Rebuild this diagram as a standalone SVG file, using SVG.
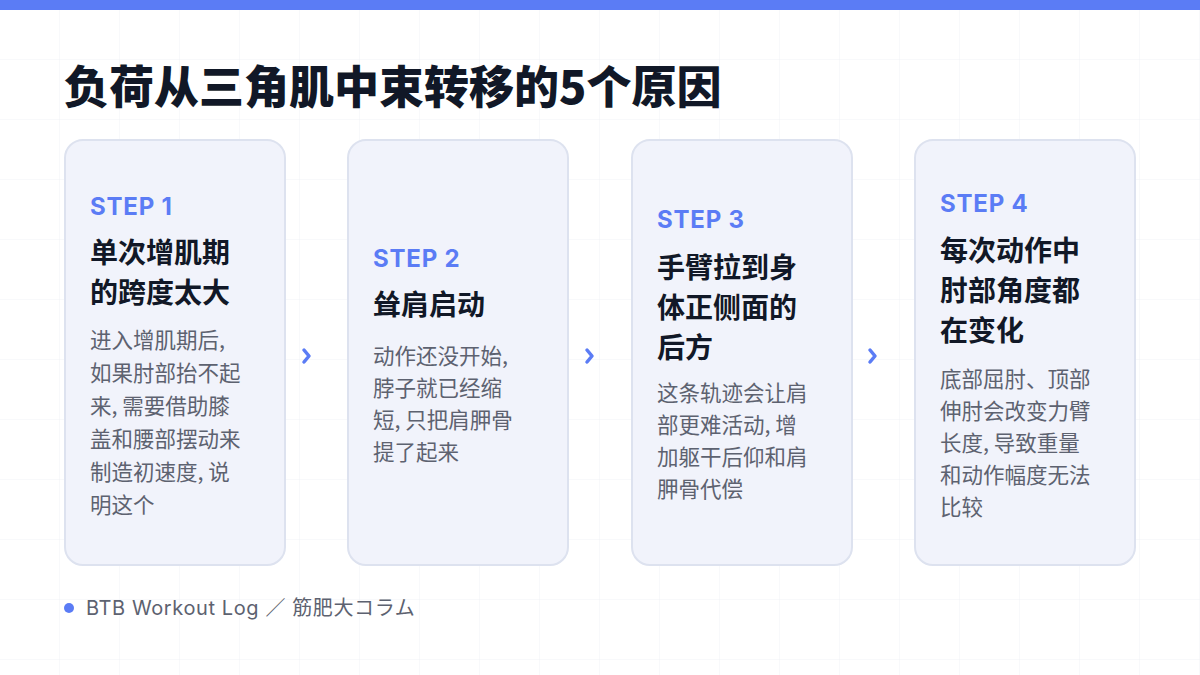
<svg xmlns="http://www.w3.org/2000/svg" width="1200" height="675" viewBox="0 0 1200 675">
<defs>
<pattern id="grid" width="60" height="60" patternUnits="userSpaceOnUse"><path d="M60 0V60H0" fill="none" stroke="#f1f2f6" stroke-width="1"/></pattern>
</defs>
<style>
.card{fill:#f1f3fb;stroke:#dde2ef;stroke-width:2}
.step{font-family:Inter,"Noto Sans",sans-serif;font-weight:700;font-size:24px;letter-spacing:0.8px;fill:#5b7cf5}
.ttl{font-family:"Noto Sans CJK SC",sans-serif;font-weight:700;font-size:28px;fill:#111827}
.body{font-family:"Noto Sans CJK SC",sans-serif;font-size:21.5px;fill:#5d6270}
.arr{fill:none;stroke:#5b7cf5;stroke-width:3.5;stroke-linecap:round;stroke-linejoin:round}
</style>
<rect width="1200" height="675" fill="#ffffff"/>
<rect width="1200" height="675" fill="url(#grid)"/>
<rect width="1200" height="10" fill="#5b7cf5"/>
<text x="64" y="104" font-family="'Noto Sans CJK SC',sans-serif" font-weight="900" font-size="45" fill="#111827">负荷从三角肌中束转移的5个原因</text>
<g id="connectors">
<path class="arr" d="M304 350l5 6-5 6"/>
<path class="arr" d="M587 350l5 6-5 6"/>
<path class="arr" d="M870 350l5 6-5 6"/>
</g>
<g id="step1">
<rect class="card" x="65" y="140" width="220" height="425" rx="18"/>
<text class="step" x="90" y="215">STEP 1</text>
<text class="ttl" x="90" y="263">单次增肌期</text>
<text class="ttl" x="90" y="303">的跨度太大</text>
<text class="body"><tspan x="90" y="348">进入增肌期后,</tspan><tspan x="90" y="381">如果肘部抬不起</tspan><tspan x="90" y="414">来, 需要借助膝</tspan><tspan x="90" y="447">盖和腰部摆动来</tspan><tspan x="90" y="480">制造初速度, 说</tspan><tspan x="90" y="513">明这个</tspan></text>
</g>
<g id="step2">
<rect class="card" x="348" y="140" width="220" height="425" rx="18"/>
<text class="step" x="373" y="267">STEP 2</text>
<text class="ttl" x="373" y="315">耸肩启动</text>
<text class="body"><tspan x="373" y="364">动作还没开始,</tspan><tspan x="373" y="396">脖子就已经缩</tspan><tspan x="373" y="428">短, 只把肩胛骨</tspan><tspan x="373" y="460">提了起来</tspan></text>
</g>
<g id="step3">
<rect class="card" x="632" y="140" width="220" height="425" rx="18"/>
<text class="step" x="657" y="228">STEP 3</text>
<text class="ttl" x="657" y="278">手臂拉到身</text>
<text class="ttl" x="657" y="318">体正侧面的</text>
<text class="ttl" x="657" y="358">后方</text>
<text class="body"><tspan x="657" y="401">这条轨迹会让肩</tspan><tspan x="657" y="433">部更难活动, 增</tspan><tspan x="657" y="465">加躯干后仰和肩</tspan><tspan x="657" y="497">胛骨代偿</tspan></text>
</g>
<g id="step4">
<rect class="card" x="915" y="140" width="220" height="425" rx="18"/>
<text class="step" x="940" y="212">STEP 4</text>
<text class="ttl" x="940" y="261">每次动作中</text>
<text class="ttl" x="940" y="301">肘部角度都</text>
<text class="ttl" x="940" y="341">在变化</text>
<text class="body"><tspan x="940" y="387">底部屈肘、顶部</tspan><tspan x="940" y="419">伸肘会改变力臂</tspan><tspan x="940" y="451">长度, 导致重量</tspan><tspan x="940" y="483">和动作幅度无法</tspan><tspan x="940" y="515">比较</tspan></text>
</g>
<g id="footer">
<circle cx="69" cy="608" r="5" fill="#5b7cf5"/>
<text x="86" y="615" font-family="Inter,'Noto Sans CJK JP',sans-serif" font-size="20" letter-spacing="0.6" fill="#5d6270">BTB Workout Log ／ 筋肥大コラム</text>
</g>
</svg>
